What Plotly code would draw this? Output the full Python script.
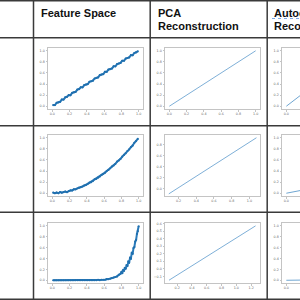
import plotly.graph_objects as go

# ---------------- data ----------------
headers = ["Feature Space", "PCA", "Reconstruction", "Autoencoder", "Reconstruction"]

# Feature space: y ≈ x (row 1)
x_lin = [0.01,0.03,0.05,0.07,0.09,0.11,0.13,0.15,0.17,0.19,0.21,0.23,0.25,0.27,0.29,0.31,0.33,0.35,0.37,0.39,
         0.41,0.43,0.45,0.47,0.49,0.51,0.53,0.55,0.57,0.59,0.61,0.63,0.65,0.67,0.69,0.71,0.73,0.75,0.77,0.79,
         0.81,0.83,0.85,0.87,0.89,0.91,0.93,0.95,0.97,0.99]
y_lin = [0.02,0.02,0.06,0.07,0.08,0.12,0.12,0.16,0.17,0.20,0.20,0.24,0.25,0.26,0.30,0.31,0.34,0.34,0.38,0.39,
         0.40,0.44,0.45,0.46,0.50,0.51,0.52,0.56,0.57,0.58,0.62,0.62,0.66,0.67,0.68,0.72,0.72,0.76,0.77,0.78,
         0.82,0.82,0.86,0.87,0.88,0.92,0.92,0.96,0.97,0.99]

# Feature space: y ≈ x^2 (row 2)
x_sq = x_lin
y_sq = [0.01,0.00,0.01,0.00,0.02,0.01,0.02,0.03,0.02,0.04,0.05,0.05,0.07,0.07,0.09,0.10,0.11,0.12,0.14,0.15,
        0.17,0.19,0.20,0.22,0.25,0.26,0.28,0.30,0.33,0.35,0.37,0.40,0.42,0.45,0.48,0.50,0.53,0.57,0.59,0.62,
        0.66,0.69,0.72,0.76,0.79,0.83,0.86,0.91,0.94,0.98]

# Feature space: steep power curve (row 3)
x_pow = [0.01,0.03,0.05,0.07,0.09,0.11,0.13,0.15,0.17,0.19,0.21,0.23,0.25,0.27,0.29,0.31,0.33,0.35,0.37,0.39,
         0.41,0.43,0.45,0.47,0.49,0.51,0.53,0.55,0.57,0.59,0.61,0.63,0.65,0.67,0.69,0.71,0.73,0.75,0.77,0.79,
         0.80,0.81,0.82,0.83,0.84,0.85,0.86,0.87,0.88,0.89,0.90,0.91,0.92,0.93,0.94,0.95,0.96,0.97,0.98,0.99,1.00]
y_pow = [0.00,0.00,0.00,0.00,0.00,0.00,0.00,0.00,0.00,0.00,0.00,0.00,0.00,0.00,0.00,0.00,0.00,0.00,0.00,0.00,
         0.00,0.00,0.00,0.00,0.00,0.00,0.01,0.00,0.01,0.01,0.01,0.02,0.02,0.03,0.04,0.05,0.06,0.07,0.10,0.12,
         0.15,0.13,0.19,0.17,0.23,0.21,0.28,0.26,0.34,0.33,0.41,0.40,0.50,0.49,0.59,0.61,0.71,0.74,0.85,0.90,0.99]

# PCA reconstructions (straight lines)
pca_x = [[0.00, 1.00], [0.09, 1.08], [0.09, 1.26]]
pca_y = [[0.00, 1.00], [-0.10, 0.93], [-0.15, 0.57]]

# Autoencoder reconstructions (only the left part is visible)
ae_x = [[0.00, 0.10, 0.20, 0.50, 1.00], [0.00, 0.10, 0.20, 0.50, 1.00], [0.00, 0.10, 0.20, 0.50, 1.00]]
ae_y = [[0.00, 0.12, 0.24, 0.52, 0.99], [0.00, 0.03, 0.06, 0.25, 0.97], [0.00, 0.00, 0.00, 0.01, 0.97]]

W, H = 300, 300
def px(v): return v / W
def py(v): return 1 - v / H

col_dom = [(48, 143), (165, 260), (282, 300)]
row_dom = [(48, 109), (135, 196), (223, 283)]

xr = {
    (0, 0): [-0.05, 1.05], (0, 1): [-0.05, 1.05], (0, 2): [-0.05, 0.158],
    (1, 0): [-0.05, 1.05], (1, 1): [0.047, 1.12], (1, 2): [-0.05, 0.158],
    (2, 0): [-0.05, 1.05], (2, 1): [0.036, 1.32], (2, 2): [-0.05, 0.158],
}
yr = {
    (0, 0): [-0.05, 1.05], (0, 1): [-0.05, 1.05], (0, 2): [-0.05, 1.05],
    (1, 0): [-0.05, 1.05], (1, 1): [-0.139, 0.98], (1, 2): [-0.05, 1.05],
    (2, 0): [-0.05, 1.05], (2, 1): [-0.187, 0.608], (2, 2): [-0.05, 1.05],
}
ydt = {(2, 1): 0.1}

feat = [(x_lin, y_lin), (x_sq, y_sq), (x_pow, y_pow)]

fig = go.Figure()
layout = dict(width=W, height=H, margin=dict(l=0, r=0, t=0, b=0),
              paper_bgcolor="white", plot_bgcolor="white", showlegend=False)

tickfont = dict(family="DejaVu Sans", size=3.3, color="#666")
idx = 0
for r in range(3):
    for c in range(3):
        idx += 1
        xa = "x" if idx == 1 else f"x{idx}"
        ya = "y" if idx == 1 else f"y{idx}"
        if c == 0:
            fig.add_trace(go.Scatter(x=feat[r][0], y=feat[r][1], mode="lines+markers",
                                     line=dict(width=2.0, color="#2b7bba"),
                                     marker=dict(size=2.2, color="#1f6fae", line=dict(width=0)),
                                     xaxis=xa, yaxis=ya, hoverinfo="skip"))
        elif c == 1:
            fig.add_trace(go.Scatter(x=pca_x[r], y=pca_y[r], mode="lines",
                                     line=dict(width=0.9, color="#6fa6d2"),
                                     xaxis=xa, yaxis=ya, hoverinfo="skip"))
        else:
            fig.add_trace(go.Scatter(x=ae_x[r], y=ae_y[r], mode="lines",
                                     line=dict(width=1.0, color="#6fa6d2"),
                                     xaxis=xa, yaxis=ya, hoverinfo="skip"))
        x0, x1 = col_dom[c]
        y0, y1 = row_dom[r]
        common = dict(showgrid=False, zeroline=False, showline=True, linecolor="#c4c4c4",
                      linewidth=1, ticks="outside", ticklen=1.5, tickcolor="#c4c4c4",
                      tickwidth=0.6, tickfont=tickfont, tickformat=".1f")
        layout["xaxis" if idx == 1 else f"xaxis{idx}"] = dict(
            common, domain=[px(x0), px(x1)], range=xr[(r, c)], dtick=0.2, tick0=0,
            anchor=ya, mirror=True)
        layout["yaxis" if idx == 1 else f"yaxis{idx}"] = dict(
            common, domain=[py(y1), py(y0)], range=yr[(r, c)], dtick=ydt.get((r, c), 0.2), tick0=0,
            anchor=xa, mirror=(c != 2))

# table grid lines
shapes = []
for yy in [0.7, 37.7, 125.7, 212.3, 299.3]:
    shapes.append(dict(type="line", xref="paper", yref="paper", x0=0, x1=1, y0=py(yy), y1=py(yy),
                       line=dict(color="#3a3a3a", width=1.5)))
for xx in [33.5, 150.2, 267.2]:
    shapes.append(dict(type="line", xref="paper", yref="paper", x0=px(xx), x1=px(xx), y0=0, y1=1,
                       line=dict(color="#3a3a3a", width=1.5)))
# spell-check squiggle under "Autoencoder"
shapes.append(dict(type="line", xref="paper", yref="paper", x0=px(272), x1=1, y0=py(18.5), y1=py(18.5),
                   line=dict(color="#7aa7e6", width=1, dash="dot")))
layout["shapes"] = shapes

hfont = dict(family="Liberation Sans", size=11, color="#111")
ann = []
for text, xx, yy in [(headers[0], 39, 13.3), (headers[1], 156, 13.3), (headers[2], 156, 26.3),
                     (headers[3], 272, 13.3), (headers[4], 272, 26.3)]:
    ann.append(dict(text=f"<b>{text}</b>", x=px(xx), y=py(yy), xref="paper", yref="paper",
                    xanchor="left", yanchor="middle", showarrow=False, font=hfont))
layout["annotations"] = ann

fig.update_layout(**layout)
fig.write_html("out.html")
